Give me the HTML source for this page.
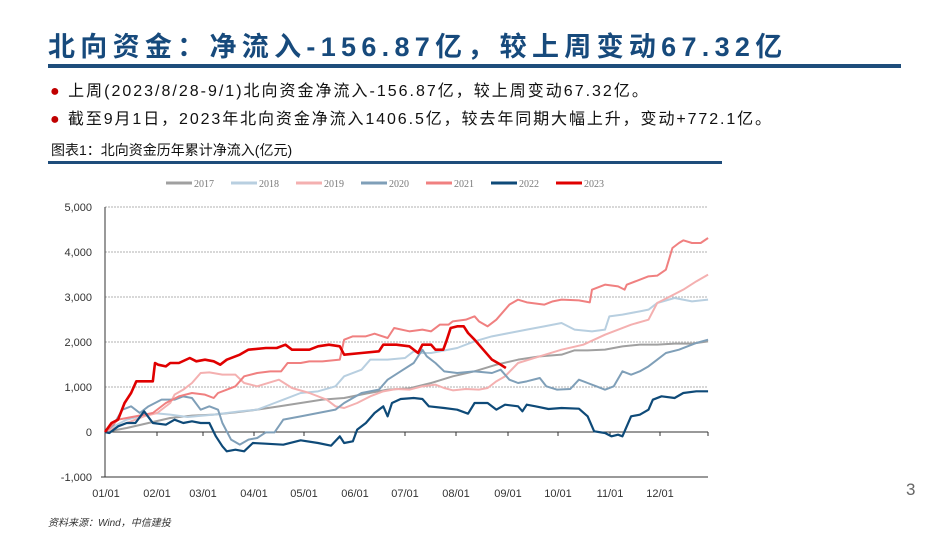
<!DOCTYPE html>
<html><head><meta charset="utf-8"><style>
body{margin:0;width:950px;height:535px;background:#fff;overflow:hidden;position:relative;font-family:"Liberation Sans","Noto Sans CJK SC",sans-serif}
.t{position:absolute;white-space:nowrap}
</style></head><body>
<div class="t" style="left:48px;top:31px;font-size:27px;line-height:32px;font-weight:bold;color:#174a7c;letter-spacing:5.3px">北向资金：净流入-156.87亿，较上周变动67.32亿</div>
<div style="position:absolute;left:48px;top:64px;width:853px;height:4px;background:#1e4d7b"></div>
<div class="t" style="left:50px;top:81px;font-size:16px;line-height:22px;color:#111;letter-spacing:2px"><span style="color:#c00000">●</span> 上周(2023/8/28-9/1)北向资金净流入-156.87亿，较上周变动67.32亿。</div>
<div class="t" style="left:50px;top:109px;font-size:16px;line-height:22px;color:#111;letter-spacing:1.9px"><span style="color:#c00000">●</span> 截至9月1日，2023年北向资金净流入1406.5亿，较去年同期大幅上升，变动+772.1亿。</div>
<div class="t" style="left:51px;top:141px;font-size:14px;line-height:18px;color:#111">图表1：北向资金历年累计净流入(亿元)</div>
<div style="position:absolute;left:48px;top:161px;width:674px;height:3px;background:#1e4d7b"></div>
<div class="t" style="left:906px;top:480px;font-size:17px;color:#666">3</div>
<div class="t" style="left:48px;top:514px;font-size:10px;font-style:italic;color:#333">资料来源：Wind，中信建投</div>
<svg width="950" height="535" style="position:absolute;left:0;top:0" font-family="Liberation Sans,sans-serif">
<g font-family="Liberation Serif,serif" font-size="10" fill="#777">
<line x1="166" y1="183" x2="192" y2="183" stroke="#a0a0a0" stroke-width="3"/><text x="194" y="187">2017</text>
<line x1="231" y1="183" x2="257" y2="183" stroke="#b8cfe0" stroke-width="3"/><text x="259" y="187">2018</text>
<line x1="296" y1="183" x2="322" y2="183" stroke="#f4b0b0" stroke-width="3"/><text x="324" y="187">2019</text>
<line x1="361" y1="183" x2="387" y2="183" stroke="#7f9fb8" stroke-width="3"/><text x="389" y="187">2020</text>
<line x1="426" y1="183" x2="452" y2="183" stroke="#f08080" stroke-width="3"/><text x="454" y="187">2021</text>
<line x1="491" y1="183" x2="517" y2="183" stroke="#0e4a78" stroke-width="3"/><text x="519" y="187">2022</text>
<line x1="556" y1="183" x2="582" y2="183" stroke="#e00000" stroke-width="3"/><text x="584" y="187">2023</text>
</g>
<g stroke="#999" stroke-width="0.8" stroke-dasharray="2,1">
<line x1="105" y1="207" x2="708" y2="207"/><line x1="105" y1="252" x2="708" y2="252"/><line x1="105" y1="297" x2="708" y2="297"/><line x1="105" y1="342" x2="708" y2="342"/><line x1="105" y1="387" x2="708" y2="387"/>
</g>
<line x1="105" y1="207" x2="105" y2="477" stroke="#333"/>
<line x1="105" y1="432" x2="708" y2="432" stroke="#333"/>
<line x1="101" y1="477" x2="708" y2="477" stroke="#333"/>
<g stroke="#333">
<line x1="157" y1="432" x2="157" y2="436"/><line x1="203" y1="432" x2="203" y2="436"/><line x1="254" y1="432" x2="254" y2="436"/><line x1="304" y1="432" x2="304" y2="436"/><line x1="355" y1="432" x2="355" y2="436"/><line x1="405" y1="432" x2="405" y2="436"/><line x1="456" y1="432" x2="456" y2="436"/><line x1="508" y1="432" x2="508" y2="436"/><line x1="558" y1="432" x2="558" y2="436"/><line x1="610" y1="432" x2="610" y2="436"/><line x1="660" y1="432" x2="660" y2="436"/><line x1="708" y1="432" x2="708" y2="436"/>
</g>
<g font-size="11" fill="#333" text-anchor="end">
<text x="92" y="211">5,000</text><text x="92" y="256">4,000</text><text x="92" y="301">3,000</text><text x="92" y="346">2,000</text><text x="92" y="391">1,000</text><text x="92" y="436">0</text><text x="92" y="481">-1,000</text>
</g>
<g font-size="11" fill="#333" text-anchor="middle">
<text x="106" y="497">01/01</text><text x="157" y="497">02/01</text><text x="203" y="497">03/01</text><text x="254" y="497">04/01</text><text x="304" y="497">05/01</text><text x="355" y="497">06/01</text><text x="405" y="497">07/01</text><text x="456" y="497">08/01</text><text x="508" y="497">09/01</text><text x="558" y="497">10/01</text><text x="610" y="497">11/01</text><text x="660" y="497">12/01</text>
</g>
<g transform="translate(39.78,189.67) scale(0.4348,0.33333)" fill="none" stroke-linejoin="round">
<polyline vector-effect="non-scaling-stroke" stroke="#a0a0a0" stroke-width="2" points="150,727 200,715 250,700 300,685 350,678 400,675 450,668 500,660 550,650 600,640 650,630 700,625 750,612 800,600 850,596 900,580 950,560 1000,545 1050,525 1100,510 1150,500 1200,495 1230,482 1260,482 1300,480 1340,470 1380,465 1420,465 1460,462 1500,462 1537,455"/>
<polyline vector-effect="non-scaling-stroke" stroke="#b8cfe0" stroke-width="2" points="150,727 170,710 200,690 230,680 260,670 300,675 340,682 400,675 460,665 500,660 540,640 560,630 600,610 640,605 680,590 700,560 740,540 760,510 800,510 840,505 860,485 880,490 900,490 960,475 1000,455 1040,440 1080,430 1120,420 1160,410 1200,400 1230,420 1270,425 1300,420 1310,380 1340,375 1380,365 1400,360 1420,340 1460,325 1500,335 1537,330"/>
<polyline vector-effect="non-scaling-stroke" stroke="#f4b0b0" stroke-width="2" points="150,727 200,700 240,680 270,670 300,640 310,615 330,600 350,580 370,550 390,548 420,555 450,555 470,580 500,590 550,570 580,595 620,610 660,630 680,650 700,655 730,640 760,620 790,605 820,598 850,600 880,590 910,585 930,595 950,602 980,598 1010,600 1030,595 1050,575 1070,560 1100,520 1150,500 1200,480 1250,465 1300,435 1330,420 1360,405 1400,390 1420,340 1450,320 1480,300 1510,275 1537,255"/>
<polyline vector-effect="non-scaling-stroke" stroke="#7f9fb8" stroke-width="2" points="150,727 170,705 190,660 210,650 230,670 250,650 280,630 310,630 330,620 350,625 370,660 390,650 410,660 420,700 440,750 460,765 480,750 500,745 520,728 540,728 560,690 600,680 640,670 680,660 700,640 740,610 780,600 800,570 830,545 860,520 880,480 890,500 910,520 930,545 960,550 1000,545 1040,550 1060,540 1080,570 1100,580 1120,575 1150,565 1165,590 1190,600 1220,598 1240,570 1260,580 1280,590 1300,600 1320,590 1340,545 1360,555 1380,545 1400,530 1420,510 1440,490 1470,480 1490,470 1510,460 1537,450"/>
<polyline vector-effect="non-scaling-stroke" stroke="#f08080" stroke-width="2" points="150,727 180,690 220,680 260,670 290,640 320,620 350,610 380,615 400,625 410,610 430,600 450,590 470,560 500,550 530,545 555,545 570,520 600,520 620,515 650,515 690,510 700,450 720,440 750,440 770,432 800,445 815,415 850,425 880,420 900,425 920,405 940,405 950,395 980,390 1000,380 1010,395 1030,410 1050,390 1080,345 1100,330 1120,338 1160,345 1180,335 1200,330 1240,332 1265,338 1270,300 1300,285 1330,290 1345,300 1350,285 1380,270 1400,260 1420,258 1440,240 1455,175 1470,160 1480,152 1500,160 1520,160 1537,145"/>
<polyline vector-effect="non-scaling-stroke" stroke="#0e4a78" stroke-width="2.2" points="150,727 160,730 180,710 200,700 220,700 240,665 260,700 290,705 310,690 330,700 350,695 370,700 390,700 405,740 420,770 430,785 450,780 470,785 490,760 520,762 560,765 600,752 640,760 670,768 690,740 700,760 720,755 730,720 750,700 770,670 790,650 800,680 810,640 830,628 860,625 880,628 895,650 930,655 960,660 985,672 1000,640 1030,640 1050,660 1070,645 1100,650 1110,665 1120,645 1140,650 1170,658 1200,655 1240,657 1260,680 1275,725 1300,730 1315,740 1330,735 1340,740 1360,680 1380,675 1400,660 1410,630 1430,620 1460,625 1480,610 1510,605 1537,605"/>
<polyline vector-effect="non-scaling-stroke" stroke="#e00000" stroke-width="2.6" points="150,727 165,700 180,690 195,640 210,610 222,575 235,575 260,575 265,520 272,525 290,530 300,520 320,520 345,505 360,515 380,510 400,515 415,525 430,510 460,495 480,480 520,475 545,475 565,465 580,480 620,480 640,470 665,465 690,470 700,495 740,490 780,485 790,465 820,465 850,470 870,490 880,465 900,465 910,480 928,480 935,455 945,415 960,410 975,410 985,430 1000,450 1020,480 1040,510 1060,525 1072,535"/>
</g>
</svg>
</body></html>
